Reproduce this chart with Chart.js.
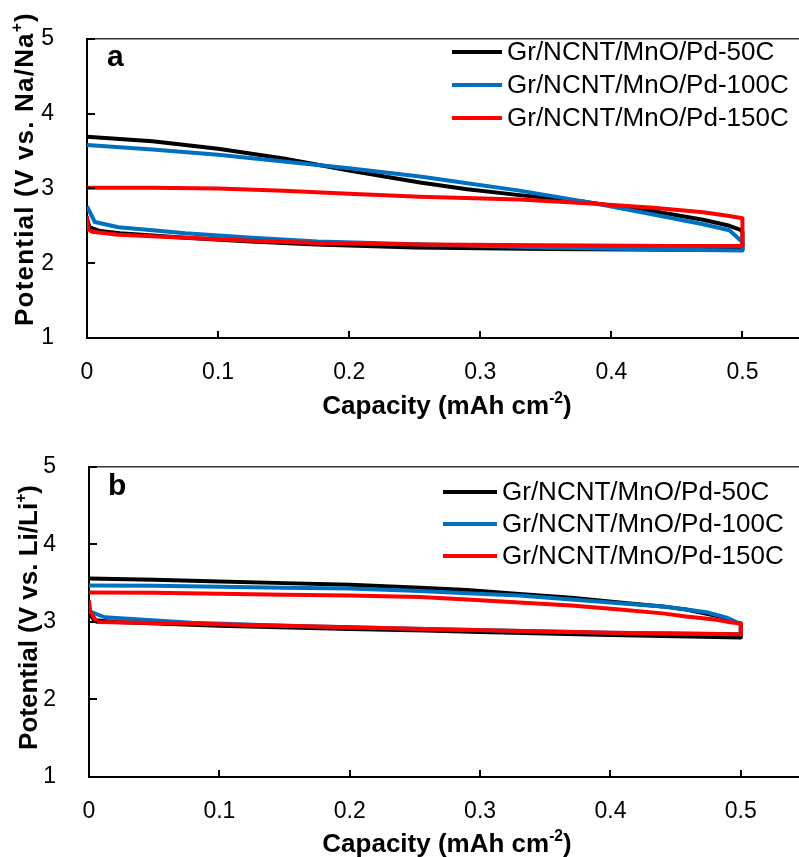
<!DOCTYPE html>
<html>
<head>
<meta charset="utf-8">
<script src="https://cdn.jsdelivr.net/npm/chart.js@4.4.1/dist/chart.umd.min.js"></script>
<style>
  html, body { margin: 0; padding: 0; background: #fff; width: 799px; height: 857px; overflow: hidden; }
  .panel { position: absolute; left: 0; width: 830px; }
  #wrapA { top: 0; height: 428px; }
  #wrapB { top: 428px; height: 429px; }
</style>
</head>
<body>
<div class="panel" id="wrapA"><canvas id="chartNa" width="830" height="428"></canvas></div>
<div class="panel" id="wrapB"><canvas id="chartLi" width="830" height="429"></canvas></div>
<script>
// axis ticks
const capTicks = [0, 0.1, 0.2, 0.3, 0.4, 0.5];
const potTicks = [1, 2, 3, 4, 5];
const seriesNames = ['Gr/NCNT/MnO/Pd-50C', 'Gr/NCNT/MnO/Pd-100C', 'Gr/NCNT/MnO/Pd-150C'];

// panel a (Na) - discharge 0 -> 0.5, then charge plotted back 0.5 -> 0
const naCap50 = [0, 0.002, 0.01, 0.025, 0.05, 0.075, 0.125, 0.175, 0.25, 0.35, 0.45, 0.5, 0.5, 0.498, 0.49, 0.47, 0.45, 0.43, 0.38, 0.33, 0.29, 0.254, 0.2, 0.15, 0.1, 0.05, 0];
const naPot50 = [2.59, 2.48, 2.43, 2.40, 2.37, 2.34, 2.29, 2.25, 2.21, 2.19, 2.18, 2.18, 2.42, 2.45, 2.50, 2.58, 2.64, 2.70, 2.82, 2.91, 2.99, 3.08, 3.24, 3.40, 3.53, 3.63, 3.69];
const naCap100 = [0, 0.006, 0.024, 0.05, 0.075, 0.126, 0.176, 0.258, 0.35, 0.45, 0.5, 0.5, 0.497, 0.49, 0.47, 0.432, 0.381, 0.33, 0.29, 0.254, 0.2, 0.15, 0.1, 0.05, 0];
const naPot100 = [2.76, 2.55, 2.48, 2.44, 2.40, 2.34, 2.29, 2.25, 2.21, 2.18, 2.17, 2.28, 2.33, 2.44, 2.52, 2.65, 2.82, 2.97, 3.07, 3.16, 3.27, 3.36, 3.45, 3.52, 3.58];
const naCap150 = [0, 0.001, 0.004, 0.024, 0.075, 0.126, 0.176, 0.258, 0.35, 0.45, 0.5, 0.5, 0.49, 0.47, 0.432, 0.381, 0.33, 0.254, 0.2, 0.15, 0.1, 0.05, 0];
const naPot150 = [2.63, 2.45, 2.42, 2.38, 2.34, 2.30, 2.27, 2.25, 2.24, 2.23, 2.23, 2.60, 2.63, 2.68, 2.74, 2.80, 2.85, 2.89, 2.93, 2.97, 3.00, 3.01, 3.01];

// panel b (Li)
const liCap50 = [0, 0.004, 0.02, 0.1, 0.2, 0.258, 0.3, 0.4, 0.5, 0.5, 0.497, 0.484, 0.458, 0.44, 0.407, 0.37, 0.33, 0.29, 0.254, 0.2, 0.15, 0.1, 0.05, 0];
const liPot50 = [3.12, 3.02, 3.00, 2.95, 2.91, 2.89, 2.87, 2.83, 2.80, 2.98, 2.99, 3.07, 3.16, 3.20, 3.25, 3.31, 3.36, 3.41, 3.44, 3.48, 3.50, 3.52, 3.545, 3.56];
const liCap100 = [0, 0.012, 0.048, 0.079, 0.15, 0.258, 0.4, 0.5, 0.5, 0.499, 0.49, 0.475, 0.458, 0.44, 0.407, 0.37, 0.33, 0.29, 0.254, 0.2, 0.15, 0.05, 0];
const liPot100 = [3.14, 3.06, 3.02, 2.99, 2.95, 2.91, 2.86, 2.84, 2.95, 2.98, 3.05, 3.12, 3.16, 3.20, 3.24, 3.29, 3.34, 3.37, 3.40, 3.43, 3.44, 3.465, 3.47];
const liCap150 = [0, 0.001, 0.006, 0.074, 0.15, 0.258, 0.4, 0.5, 0.5, 0.49, 0.48, 0.458, 0.44, 0.407, 0.37, 0.33, 0.29, 0.254, 0.2, 0.15, 0.05, 0];
const liPot150 = [3.28, 3.13, 3.00, 2.98, 2.95, 2.91, 2.86, 2.84, 2.98, 3.00, 3.03, 3.07, 3.11, 3.16, 3.21, 3.25, 3.29, 3.32, 3.34, 3.35, 3.375, 3.38];

const lineColors = ['#000000', '#0070C0', '#FF0000'];
const fontFamily = '"Liberation Sans", Arial, sans-serif';

function drawRich(ctx, parts, size, x, y, spacing) {
  // draws bold text centred on x, with superscript parts
  ctx.letterSpacing = (spacing || 0) + 'px';
  let total = 0;
  parts.forEach(p => {
    ctx.font = 'bold ' + (p.sup ? size * 0.6 : size) + 'px ' + fontFamily;
    total += ctx.measureText(p.t).width;
  });
  let cx = x - total / 2;
  ctx.textAlign = 'left';
  ctx.textBaseline = 'middle';
  parts.forEach(p => {
    ctx.font = 'bold ' + (p.sup ? size * 0.6 : size) + 'px ' + fontFamily;
    ctx.fillText(p.t, cx, p.sup ? y - size * 0.32 : y);
    cx += ctx.measureText(p.t).width;
  });
  ctx.letterSpacing = '0px';
}

const decor = {
  id: 'panelDecor',
  afterDraw(chart, args, o) {
    const ctx = chart.ctx;
    const a = chart.chartArea;
    const xs = chart.scales.x, ys = chart.scales.y;
    ctx.save();
    // top frame
    ctx.strokeStyle = '#333';
    ctx.lineWidth = 1.5;
    ctx.beginPath();
    ctx.moveTo(a.left, a.top);
    ctx.lineTo(a.right, a.top);
    ctx.lineTo(a.right, a.bottom);
    ctx.stroke();
    // inward tick marks
    ctx.strokeStyle = '#000';
    ctx.lineWidth = 2;
    ctx.beginPath();
    capTicks.forEach(v => {
      const px = Math.round(xs.getPixelForValue(v));
      ctx.moveTo(px, a.bottom);
      ctx.lineTo(px, a.bottom - 7);
    });
    potTicks.forEach(v => {
      const py = Math.round(ys.getPixelForValue(v));
      ctx.moveTo(a.left, py);
      ctx.lineTo(a.left + 8, py);
    });
    ctx.stroke();
    ctx.fillStyle = '#000';
    // panel letter
    ctx.font = 'bold 30px ' + fontFamily;
    ctx.textAlign = 'left';
    ctx.textBaseline = 'alphabetic';
    ctx.fillText(o.letter, o.letterX, o.letterY);
    // axis titles
    drawRich(ctx, [{t: 'Capacity (mAh cm'}, {t: '-2', sup: true}, {t: ')'}], 26, o.xTitleX, o.xTitleY, 0);
    ctx.save();
    ctx.translate(o.yTitleX, o.yTitleY);
    ctx.rotate(-Math.PI / 2);
    drawRich(ctx, o.yTitle, 26, 0, 0, o.yTitleSpacing);
    ctx.restore();
    // legend
    ctx.font = '26px ' + fontFamily;
    ctx.textBaseline = 'middle';
    chart.data.datasets.forEach((ds, i) => {
      const y = o.legendY + i * o.legendGap;
      ctx.strokeStyle = ds.borderColor;
      ctx.lineWidth = 4;
      ctx.beginPath();
      ctx.moveTo(o.legendX, y);
      ctx.lineTo(o.legendX + o.legendLen, y);
      ctx.stroke();
      ctx.fillStyle = '#000';
      ctx.fillText(ds.label, o.legendX + o.legendLen + 5, y + 1);
    });
    ctx.restore();
  }
};

function makeChart(id, caps, pots, o) {
  return new Chart(document.getElementById(id), {
    type: 'line',
    data: {
      datasets: caps.map((cap, i) => ({
        label: seriesNames[i],
        data: cap.map((c, j) => ({x: c, y: pots[i][j]})),
        borderColor: lineColors[i],
        borderWidth: 4,
        pointRadius: 0,
        tension: 0,
        fill: false,
        borderJoinStyle: 'round',
        order: 2 - i
      }))
    },
    options: {
      responsive: false,
      animation: false,
      layout: {padding: {top: o.top, right: o.right, left: 0, bottom: 0}},
      plugins: {legend: {display: false}, tooltip: {enabled: false}, panelDecor: o},
      scales: {
        x: {
          type: 'linear', min: 0, max: 0.55,
          grid: {display: false},
          border: {display: true, color: '#000', width: 2},
          afterBuildTicks: ax => { ax.ticks = capTicks.map(v => ({value: v})); },
          afterFit: ax => { ax.height = o.xAxisH; },
          ticks: {color: '#000', font: {family: fontFamily, size: 23}, padding: 13, maxRotation: 0, callback: v => String(v)}
        },
        y: {
          min: 1, max: 5,
          grid: {display: false},
          border: {display: true, color: '#000', width: 2},
          afterBuildTicks: ax => { ax.ticks = potTicks.map(v => ({value: v})); },
          afterFit: ax => { ax.width = o.left; },
          ticks: {color: '#000', font: {family: fontFamily, size: 23}, padding: 25, callback: v => String(v)}
        }
      }
    },
    plugins: [decor]
  });
}

makeChart('chartNa', [naCap50, naCap100, naCap150], [naPot50, naPot100, naPot150], {
  top: 24, right: 22, left: 87, xAxisH: 90,
  letter: 'a', letterX: 107, letterY: 66,
  xTitleX: 447, xTitleY: 407,
  yTitleX: 26, yTitleY: 169, yTitleSpacing: 1.2,
  yTitle: [{t: 'Potential (V vs. Na/Na'}, {t: '+', sup: true}, {t: ')'}],
  legendX: 452, legendLen: 50, legendY: 52, legendGap: 33
});

makeChart('chartLi', [liCap50, liCap100, liCap150], [liPot50, liPot100, liPot150], {
  top: 30, right: 24, left: 89, xAxisH: 80,
  letter: 'b', letterX: 108, letterY: 67,
  xTitleX: 447, xTitleY: 417,
  yTitleX: 30, yTitleY: 189.5, yTitleSpacing: 0,
  yTitle: [{t: 'Potential (V vs. Li/Li'}, {t: '+', sup: true}, {t: ')'}],
  legendX: 443, legendLen: 54, legendY: 64, legendGap: 32
});
</script>
</body>
</html>
